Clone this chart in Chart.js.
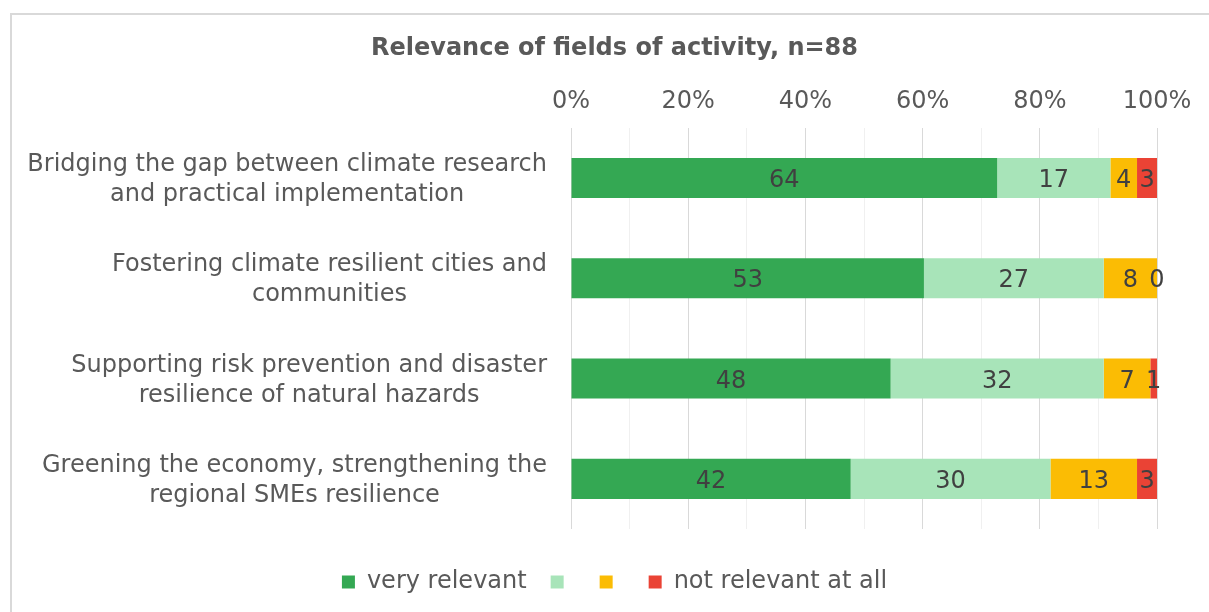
<!DOCTYPE html>
<html>
<head>
<meta charset="utf-8">
<script src="https://cdn.jsdelivr.net/npm/chart.js@4.4.1/dist/chart.umd.min.js"></script>
<style>
  body { margin: 0; background: #fff; }
  #wrap { position: relative; width: 1209px; height: 612px; }
</style>
</head>
<body>
<div id="wrap"><canvas id="bar"></canvas></div>
<script>
const CATEGORIES = [
    ['Bridging the gap between climate research', 'and practical implementation'],
    ['Fostering climate resilient cities and', 'communities'],
    ['Supporting risk prevention and disaster', 'resilience of natural hazards'],
    ['Greening the economy, strengthening the', 'regional SMEs resilience']
]
const VERY_RELEVANT = [64, 53, 48, 42]
const RELEVANT = [17, 27, 32, 30]
const LESS_RELEVANT = [4, 8, 7, 13]
const NOT_RELEVANT = [3, 0, 1, 3]
const SERIES_LABELS = ['very relevant', '', '', 'not relevant at all']
const COLORS = ['#34A853', '#A8E4B9', '#FBBC04', '#EA4335']
const X_TICKS = [0, 10, 20, 30, 40, 50, 60, 70, 80, 90, 100]

const FONT = 'DejaVu Sans'
const TEXT = '#595959'

const counts = [VERY_RELEVANT, RELEVANT, LESS_RELEVANT, NOT_RELEVANT]
const totals = VERY_RELEVANT.map((v, i) => counts.reduce((s, arr) => s + arr[i], 0))

const datasets = counts.map((arr, k) => ({
    label: SERIES_LABELS[k],
    data: arr.map((v, i) => v / totals[i] * 100),
    counts: arr,
    backgroundColor: COLORS[k],
    borderWidth: 0,
    barPercentage: 0.8,
    categoryPercentage: 0.5
}))

// frame of the chart area (left + top edges visible in the picture)
const framePlugin = {
    id: 'frame',
    beforeDraw(chart) {
        const ctx = chart.ctx
        ctx.save()
        ctx.strokeStyle = '#d9d9d9'
        ctx.lineWidth = 2
        ctx.beginPath()
        ctx.moveTo(11, chart.height + 5)
        ctx.lineTo(11, 14)
        ctx.lineTo(chart.width + 5, 14)
        ctx.stroke()
        ctx.restore()
    }
}

// value labels in the middle of each segment
const valueLabels = {
    id: 'valueLabels',
    afterDatasetsDraw(chart) {
        const ctx = chart.ctx
        ctx.save()
        ctx.font = '24px "' + FONT + '"'
        ctx.fillStyle = '#404040'
        ctx.textAlign = 'center'
        ctx.textBaseline = 'middle'
        chart.data.datasets.forEach((ds, k) => {
            chart.getDatasetMeta(k).data.forEach((bar, i) => {
                const cx = (bar.x + bar.base) / 2
                ctx.fillText(String(ds.counts[i]), cx, bar.y + 3)
            })
        })
        ctx.restore()
    }
}

// category labels: block right-aligned to the axis, lines centred inside block
const categoryLabels = {
    id: 'categoryLabels',
    afterDraw(chart) {
        const ctx = chart.ctx
        const y = chart.scales.y
        ctx.save()
        ctx.font = '24px "' + FONT + '"'
        ctx.fillStyle = TEXT
        ctx.textAlign = 'center'
        ctx.textBaseline = 'middle'
        const right = chart.chartArea.left - 24
        const lineH = 30
        CATEGORIES.forEach((lines, i) => {
            const py = y.getPixelForValue(i) + 2
            const w = Math.max(...lines.map(l => ctx.measureText(l).width))
            const cx = right - w / 2
            const y0 = py - (lines.length - 1) * lineH / 2
            lines.forEach((l, j) => ctx.fillText(l, cx, y0 + j * lineH))
        })
        ctx.restore()
    }
}

new Chart(document.getElementById('bar'), {
    type: 'bar',
    data: {
        labels: CATEGORIES.map(c => c.join(' ')),
        datasets: datasets
    },
    options: {
        indexAxis: 'y',
        responsive: true,
        maintainAspectRatio: false,
        animation: false,
        layout: { padding: { left: 72, right: 52, top: 0, bottom: 8 } },
        scales: {
            x: {
                position: 'top',
                stacked: true,
                min: 0,
                max: 100,
                afterBuildTicks(scale) {
                    scale.ticks = X_TICKS.map(v => ({ value: v }))
                },
                afterFit(scale) { scale.height = 55 },
                border: { display: false },
                grid: {
                    drawTicks: false,
                    lineWidth: 1,
                    color: ctx => (ctx.tick && ctx.tick.value % 20 === 0) ? '#d9d9d9' : '#f0f0f0'
                },
                ticks: {
                    autoSkip: false,
                    maxRotation: 0,
                    padding: 12,
                    color: TEXT,
                    font: { family: FONT, size: 24 },
                    callback: v => v % 20 === 0 ? v + '%' : ''
                }
            },
            // empty strip between plot and legend
            spacer: {
                axis: 'x',
                position: 'bottom',
                afterFit(scale) { scale.height = 17 },
                border: { display: false },
                grid: { display: false },
                ticks: { display: false }
            },
            y: {
                stacked: true,
                afterFit(scale) { scale.width = 499 },
                border: { display: false },
                grid: { display: false },
                ticks: { display: false }
            }
        },
        plugins: {
            title: {
                display: true,
                text: 'Relevance of fields of activity, n=88',
                color: TEXT,
                font: { family: FONT, size: 24, weight: 'bold' },
                padding: { top: 34, bottom: 10 }
            },
            legend: {
                position: 'bottom',
                labels: {
                    boxWidth: 13,
                    boxHeight: 13,
                    padding: 24,
                    color: TEXT,
                    font: { family: FONT, size: 24 }
                }
            },
            tooltip: { enabled: false }
        }
    },
    plugins: [framePlugin, valueLabels, categoryLabels]
})
</script>
</body>
</html>
